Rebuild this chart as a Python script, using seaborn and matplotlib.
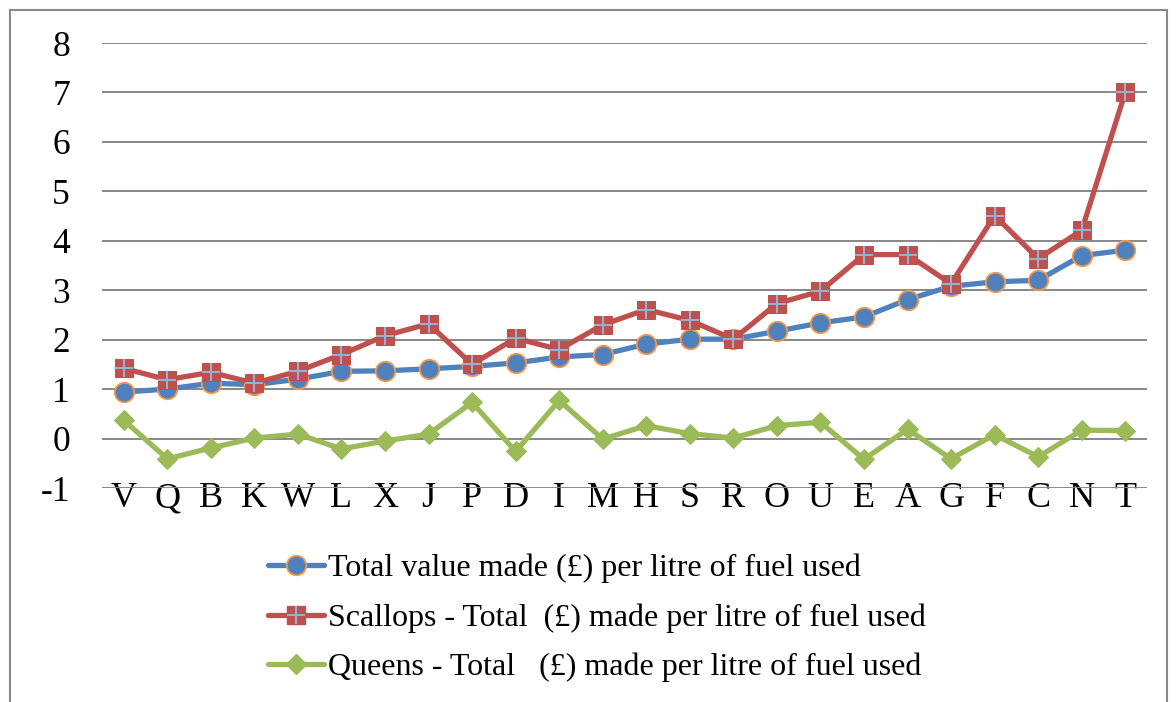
import matplotlib
matplotlib.use("Agg")
import pandas as pd
import matplotlib.pyplot as plt
import seaborn as sns
from matplotlib.lines import Line2D
from matplotlib.patches import Rectangle

# Data
vessels = ['V', 'Q', 'B', 'K', 'W', 'L', 'X', 'J', 'P', 'D', 'I', 'M',
           'H', 'S', 'R', 'O', 'U', 'E', 'A', 'G', 'F', 'C', 'N', 'T']
total_value = [0.94, 1.00, 1.12, 1.09, 1.20, 1.36, 1.37, 1.41, 1.46, 1.53, 1.65, 1.70,
               1.91, 2.01, 2.01, 2.17, 2.34, 2.46, 2.81, 3.08, 3.17, 3.20, 3.70, 3.81]
scallops = [1.42, 1.19, 1.34, 1.12, 1.36, 1.70, 2.08, 2.32, 1.50, 2.03, 1.80, 2.30,
            2.61, 2.39, 2.01, 2.73, 2.98, 3.72, 3.72, 3.13, 4.51, 3.64, 4.21, 7.00]
queens = [0.37, -0.41, -0.19, 0.01, 0.09, -0.21, -0.05, 0.09, 0.73, -0.26, 0.77, -0.01,
          0.26, 0.10, 0.01, 0.26, 0.33, -0.42, 0.19, -0.41, 0.08, -0.37, 0.17, 0.16]
series_names = ['Total value made (£) per litre of fuel used',
                'Scallops - Total  (£) made per litre of fuel used',
                'Queens - Total   (£) made per litre of fuel used']
y_ticks = list(range(-1, 9))

df = pd.DataFrame({'vessel': vessels, 'total': total_value,
                   'scallops': scallops, 'queens': queens})

sns.set_style("white")
plt.rcParams['font.family'] = ['Liberation Serif', 'DejaVu Serif']
plt.rcParams['text.color'] = 'black'

blue, orange = '#4F81BD', '#F79646'
red, plus_col = '#C0504D', '#95B3D7'
green = '#9BBB59'
grid_col = '#878787'

fig = plt.figure(figsize=(11.76, 7.02), dpi=100)
ax = fig.add_axes([102 / 1176, 1 - 488 / 702, 1045 / 1176, 445 / 702])

sns.lineplot(data=df, x='vessel', y='total', sort=False, ax=ax, color=blue, lw=3.8,
             marker='o', markersize=14, markerfacecolor=blue,
             markeredgecolor=orange, markeredgewidth=1.3, zorder=3)
sns.lineplot(data=df, x='vessel', y='scallops', sort=False, ax=ax, color=red, lw=3.8,
             marker='s', markersize=13, markerfacecolor=red,
             markeredgecolor=red, zorder=4)
ax.plot(df['vessel'], df['scallops'], ls='none', marker='+', markersize=13,
        markeredgewidth=1.4, color=plus_col, zorder=5)
sns.lineplot(data=df, x='vessel', y='queens', sort=False, ax=ax, color=green, lw=3.8,
             marker='D', markersize=10, markerfacecolor=green,
             markeredgecolor=green, zorder=6)

ax.set_xlim(-0.5, len(vessels) - 0.5)
ax.set_ylim(-1, 8)
ax.set_yticks(y_ticks)
ax.set_yticklabels([str(v) for v in y_ticks])
ax.set_xlabel('')
ax.set_ylabel('')
ax.grid(axis='y', color=grid_col, lw=1.4)
ax.grid(axis='x', visible=False)
for s in ax.spines.values():
    s.set_visible(False)
ax.tick_params(axis='y', length=0, pad=23, labelsize=25.5, labelcolor='black')
ax.tick_params(axis='x', length=0, pad=-4, labelsize=26, labelcolor='black')

# legend below the plot
h_total = Line2D([], [], color=blue, lw=3.8, marker='o', markersize=14,
                 markerfacecolor=blue, markeredgecolor=orange, markeredgewidth=1.3)
h_scal = (Line2D([], [], color=red, lw=3.8, marker='s', markersize=13,
                 markerfacecolor=red, markeredgecolor=red),
          Line2D([], [], ls='none', marker='+', markersize=13,
                 markeredgewidth=1.4, color=plus_col))
h_queens = Line2D([], [], color=green, lw=3.8, marker='D', markersize=10,
                  markerfacecolor=green, markeredgecolor=green)
leg = fig.legend([h_total, h_scal, h_queens], series_names, loc='center left',
                 bbox_to_anchor=(268 / 1176, 1 - 618 / 702), frameon=False,
                 fontsize=23, borderpad=0, borderaxespad=0, handlelength=1.75,
                 handletextpad=0.12, labelspacing=0.62)
for t in leg.get_texts():
    t.set_color('black')

# outer chart border
fig.patches.append(Rectangle((10 / 1176, -0.05), 1157 / 1176, 1.05 - 10 / 702,
                             transform=fig.transFigure, fill=False,
                             edgecolor='#898989', lw=1.5))

fig.savefig('out.png', dpi=100)
